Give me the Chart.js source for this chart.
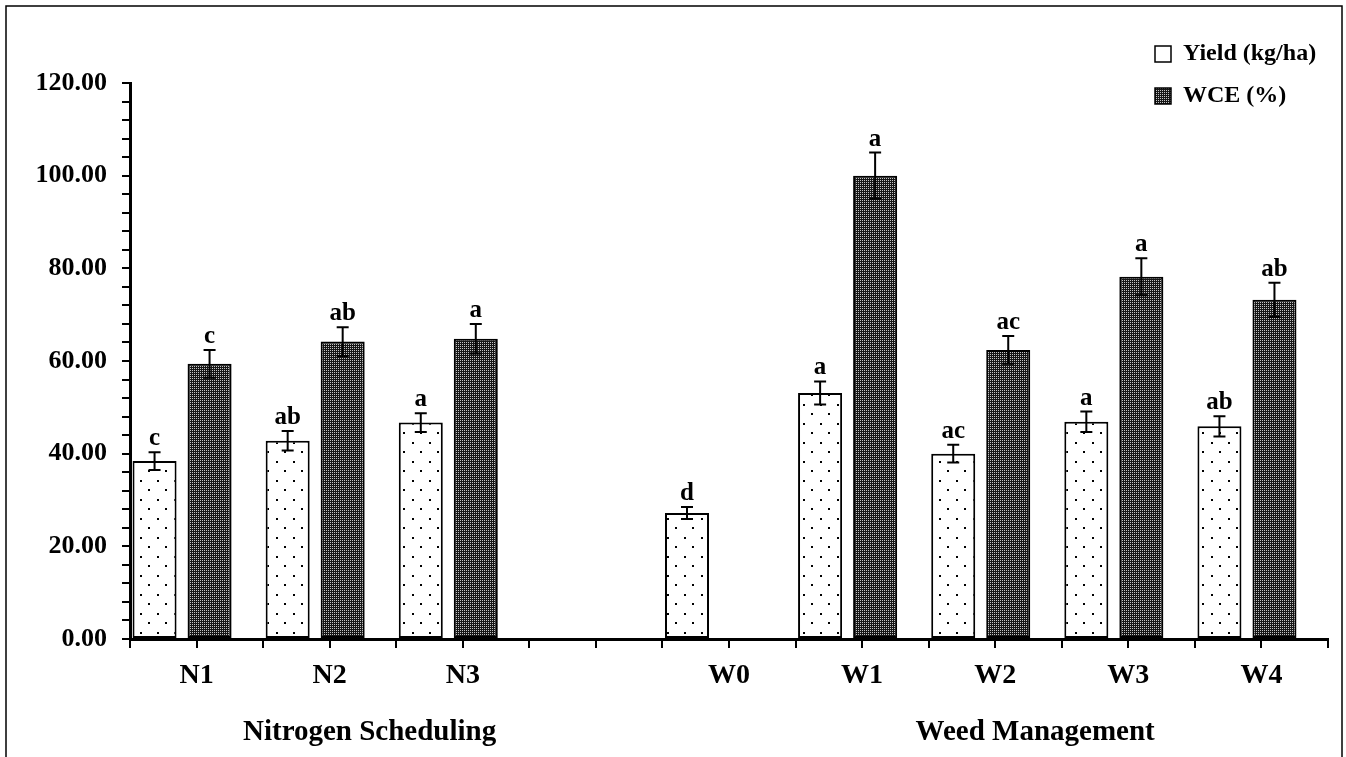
<!DOCTYPE html>
<html>
<head>
<meta charset="utf-8">
<script src="https://cdn.jsdelivr.net/npm/chart.js@4.4.1/dist/chart.umd.min.js"></script>
<style>
  html, body { margin: 0; padding: 0; background: #fff; }
  canvas { display: block; }
</style>
</head>
<body>
<canvas id="chart" width="1346" height="757" style="width:1346px;height:757px"></canvas>
<script>
// categories (blank slot separates the two factor groups)
const categories = ['N1', 'N2', 'N3', '', 'W0', 'W1', 'W2', 'W3', 'W4'];
const groupTitles = ['Nitrogen Scheduling', 'Weed Management'];

// series values
const yieldVals = [38.4, 42.8, 46.7, null, 27.2, 53.1, 40.0, 46.9, 45.9];
const wceVals   = [59.4, 64.2, 64.8, null, null, 100.0, 62.4, 78.2, 73.2];
const yieldErr  = [1.9, 2.1, 2.0, null, 1.3, 2.5, 1.9, 2.2, 2.2];
const wceErr    = [3.0, 3.1, 3.2, null, null, 5.0, 3.0, 4.0, 3.7];
const yieldLetters = ['c', 'ab', 'a', '', 'd', 'a', 'ac', 'a', 'ab'];
const wceLetters   = ['c', 'ab', 'a', '', '', 'a', 'ac', 'a', 'ab'];

const serif = "'Times New Roman', 'Liberation Serif', serif";

// fill patterns like the Excel ones
function dotPattern() {
  const c = document.createElement('canvas');
  c.width = 17; c.height = 19;
  const g = c.getContext('2d');
  g.fillStyle = '#fff';
  g.fillRect(0, 0, 17, 19);
  g.fillStyle = '#000';
  g.fillRect(4, 5, 2, 2);
  g.fillRect(12, 14, 2, 2);
  return g.createPattern(c, 'repeat');
}
function densePattern() {
  const c = document.createElement('canvas');
  c.width = 4; c.height = 4;
  const g = c.getContext('2d');
  g.fillStyle = '#161616';
  g.fillRect(0, 0, 4, 4);
  g.fillStyle = '#c4c4c4';
  g.fillRect(0, 0, 1, 1);
  g.fillRect(2, 0, 1, 1);
  g.fillRect(0, 2, 1, 1);
  g.fillRect(2, 2, 1, 1);
  return g.createPattern(c, 'repeat');
}

const extras = {
  id: 'extras',
  beforeDraw(chart) {
    const ctx = chart.ctx;
    ctx.save();
    ctx.strokeStyle = '#000';
    ctx.lineWidth = 1.5;
    ctx.strokeRect(6, 6, 1336, 800);
    ctx.restore();
  },
  afterLayout(chart) {
    // park the legend in the top right corner
    const lg = chart.legend;
    const h = lg.height;
    lg.left = 1137; lg.right = 1346;
    lg.top = 24; lg.bottom = 24 + h;
  },
  afterDatasetsDraw(chart) {
    const ctx = chart.ctx;
    const x = chart.scales.x, y = chart.scales.y;
    ctx.save();
    ctx.strokeStyle = '#000';
    ctx.lineWidth = 2;
    // extra tick marks at the category centres
    categories.forEach((c, i) => {
      const px = Math.round(x.getPixelForValue(i));
      ctx.beginPath();
      ctx.moveTo(px, x.top);
      ctx.lineTo(px, x.top + 9);
      ctx.stroke();
    });
    // error bars and letters
    const sets = [[yieldVals, yieldErr, yieldLetters], [wceVals, wceErr, wceLetters]];
    ctx.fillStyle = '#000';
    ctx.font = 'bold 25px ' + serif;
    ctx.textAlign = 'center';
    ctx.textBaseline = 'alphabetic';
    sets.forEach(([vals, errs, letters], d) => {
      const meta = chart.getDatasetMeta(d);
      meta.data.forEach((bar, i) => {
        const v = vals[i];
        if (v == null) return;
        const e = errs[i];
        const top = y.getPixelForValue(v + e);
        const bot = y.getPixelForValue(v - e);
        const cx = bar.x;
        ctx.beginPath();
        ctx.moveTo(cx, top); ctx.lineTo(cx, bot);
        ctx.moveTo(cx - 6, top); ctx.lineTo(cx + 6, top);
        ctx.moveTo(cx - 6, bot); ctx.lineTo(cx + 6, bot);
        ctx.stroke();
        if (letters[i]) ctx.fillText(letters[i], cx, top - 7);
      });
    });
    // group titles under the category labels
    ctx.font = 'bold 29px ' + serif;
    ctx.fillText(groupTitles[0], x.getPixelForValue(1.3), 740);
    ctx.fillText(groupTitles[1], x.getPixelForValue(6.3), 740);
    ctx.restore();
  }
};

const ctx = document.getElementById('chart');
new Chart(ctx, {
  type: 'bar',
  data: {
    labels: categories,
    datasets: [
      {
        label: 'Yield (kg/ha)',
        data: yieldVals,
        backgroundColor: dotPattern(),
        borderColor: '#000',
        borderWidth: 2,
        borderSkipped: false,
        categoryPercentage: 1.262,
        barPercentage: 0.524
      },
      {
        label: 'WCE (%)',
        data: wceVals,
        backgroundColor: densePattern(),
        borderColor: '#000',
        borderWidth: 2,
        borderSkipped: false,
        categoryPercentage: 0.391,
        barPercentage: 1.692
      }
    ]
  },
  options: {
    responsive: false,
    animation: false,
    devicePixelRatio: 1,
    layout: { padding: { left: 0, right: 18, top: 83, bottom: 0 } },
    plugins: {
      tooltip: { enabled: false },
      legend: {
        position: 'chartArea',
        align: 'start',
        labels: {
          color: '#000',
          font: { family: serif, size: 24, weight: 'bold' },
          boxWidth: 16,
          boxHeight: 16,
          padding: 18,
          generateLabels(chart) {
            const items = Chart.defaults.plugins.legend.labels.generateLabels(chart);
            // the Yield swatch shows as a plain open box
            items[0].fillStyle = '#fff';
            items.forEach(it => { it.lineWidth = 1.5; });
            return items;
          }
        }
      }
    },
    scales: {
      x: {
        offset: true,
        grid: { offset: true, drawOnChartArea: false, color: '#000', lineWidth: 2, tickLength: 9 },
        border: { color: '#000', width: 3 },
        ticks: { color: '#000', padding: 11, font: { family: serif, size: 28, weight: 'bold' }, maxRotation: 0 },
        afterFit(scale) { scale.height = 118; }
      },
      y: {
        min: 0,
        max: 120,
        grid: { drawOnChartArea: false, color: '#000', lineWidth: 2, tickLength: 8 },
        border: { color: '#000', width: 3 },
        ticks: {
          stepSize: 4,
          autoSkip: false,
          color: '#000',
          padding: 15,
          font: { family: serif, size: 26, weight: 'bold' },
          callback: (v) => (v % 20 === 0 ? v.toFixed(2) : '')
        },
        afterFit(scale) { scale.width = 130; }
      }
    }
  },
  plugins: [extras]
});
</script>
</body>
</html>
